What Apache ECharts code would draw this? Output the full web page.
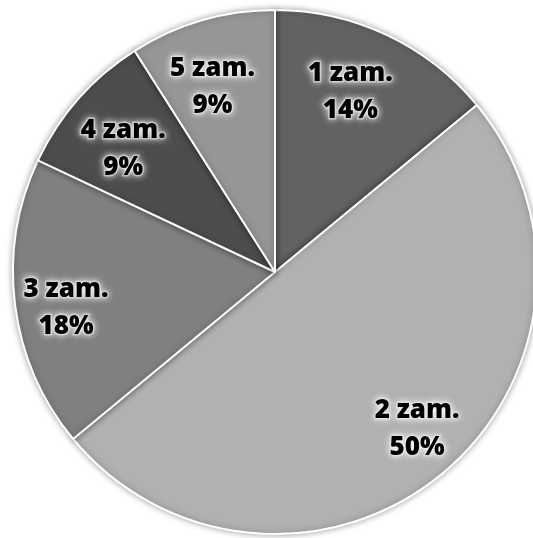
<!DOCTYPE html>
<html>
<head>
<meta charset="utf-8">
<style>
  html, body { margin: 0; padding: 0; background: #ffffff; }
  #chart { width: 533px; height: 538px; }
</style>
<script src="https://cdn.jsdelivr.net/npm/echarts@6/dist/echarts.min.js"></script>
</head>
<body>
<div id="chart"></div>
<script>
// Share of orders by count
const categories = ['1 zam.', '2 zam.', '3 zam.', '4 zam.', '5 zam.'];
const shares = [14, 50, 18, 9, 9];
const sliceColors = ['#626262', '#b1b1b1', '#808080', '#4d4d4d', '#969696'];

const chart = echarts.init(document.getElementById('chart'), null, { renderer: 'canvas' });

const CX = 275, CY = 272, R = 262;

const sliceData = categories.map((name, i) => ({
  name: name,
  value: shares[i],
  itemStyle: { color: sliceColors[i] }
}));

// Labels of the wide slices sit a little further out than those of the narrow ones
const wide = (i) => shares[i] >= 18;

const labelStyle = {
  position: 'inside',
  formatter: '{b}\n{c}%',
  fontFamily: 'Open Sans',
  fontWeight: 800,
  fontSize: 26,
  lineHeight: 37,
  color: '#000000',
  textBorderColor: 'rgba(225,225,225,0.55)',
  textBorderWidth: 3,
  textShadowColor: 'rgba(255,255,255,0.95)',
  textShadowBlur: 7
};

// Transparent ring that only carries labels; rotated a touch counterclockwise
function labelRing(innerR, pick) {
  return {
    type: 'pie',
    center: [CX, CY],
    radius: [innerR, R],
    startAngle: 92.5,
    clockwise: true,
    silent: true,
    itemStyle: { color: 'rgba(0,0,0,0)' },
    labelLine: { show: false },
    label: labelStyle,
    data: categories.map((name, i) => ({
      name: name,
      value: shares[i],
      label: { show: pick(i) }
    }))
  };
}

chart.setOption({
  animation: false,
  backgroundColor: '#ffffff',
  series: [
    {
      type: 'pie',
      center: [CX, CY],
      radius: [0, R],
      startAngle: 90,
      clockwise: true,
      silent: true,
      label: { show: false },
      labelLine: { show: false },
      itemStyle: {
        borderColor: '#ffffff',
        borderWidth: 2,
        shadowBlur: 6,
        shadowColor: 'rgba(0,0,0,0.35)'
      },
      data: sliceData
    },
    labelRing(156, (i) => wide(i)),
    labelRing(122, (i) => !wide(i))
  ]
});
</script>
</body>
</html>
